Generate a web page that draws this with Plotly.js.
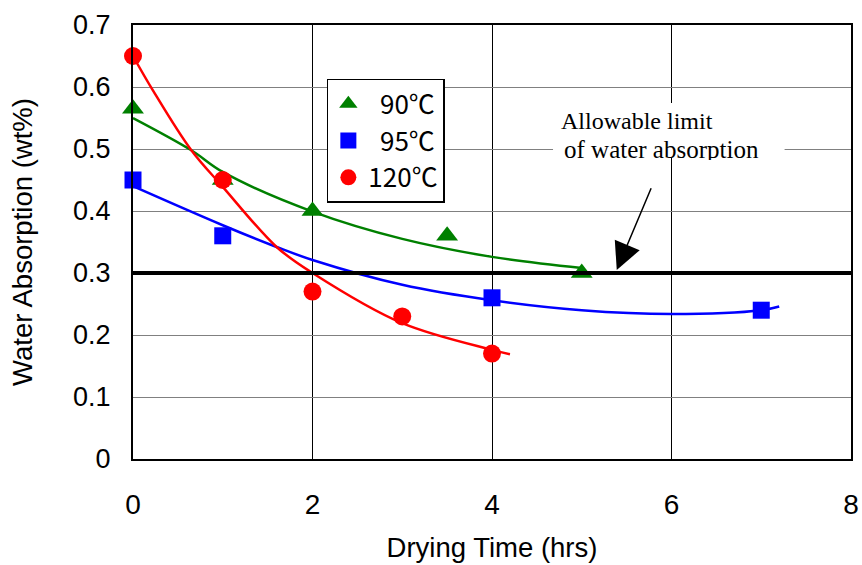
<!DOCTYPE html>
<html>
<head>
<meta charset="utf-8">
<script src="https://cdn.plot.ly/plotly-3.0.1.min.js"></script>
<style>html,body{margin:0;padding:0;background:#fff;}#chart{width:862px;height:565px;}</style>
</head>
<body>
<div id="chart"></div>
<script>
// Measured points
const series90Name = "\u00a0\u00a090\u2103";
const series95Name = "\u00a0\u00a095\u2103";
const series120Name = "120\u2103";
const time90 = [0, 1, 2, 3.5, 5];
const water90 = [0.565, 0.45, 0.40, 0.36, 0.30];
const time95 = [0, 1, 4, 7];
const water95 = [0.45, 0.36, 0.26, 0.24];
const time120 = [0, 1, 2, 3, 4];
const water120 = [0.65, 0.45, 0.27, 0.23, 0.17];

// Trend curves
const trendTime90 = [0, 0.65, 1, 2, 3, 4, 5];
const trendWater90 = [0.550, 0.498, 0.463, 0.399, 0.355, 0.326, 0.308];
const trendTime95 = [0, 1, 1.6, 2, 3, 4, 5, 6, 7, 7.2];
const trendWater95 = [0.440, 0.377, 0.342, 0.321, 0.281, 0.256, 0.240, 0.234, 0.240, 0.246];
const trendTime120 = [0, 0.22, 0.65, 1, 1.6, 2, 3, 4, 4.2];
const trendWater120 = [0.650, 0.595, 0.498, 0.439, 0.342, 0.300, 0.219, 0.176, 0.169];

// Allowable limit
const limitValue = 0.3;
const limitLine1 = "Allowable limit";
const limitLine2 = "of water absorption";
const arrowHead = [5.39, 0.305];
const arrowTail = [5.78, 0.439];

const xTicks = [0, 2, 4, 6, 8];
const yTicks = [0, 0.1, 0.2, 0.3, 0.4, 0.5, 0.6, 0.7];
const xTitle = "Drying Time (hrs)";
const yTitle = "Water Absorption (wt%)";

const GREEN = "#008000", BLUE = "#0000FF", RED = "#FF0000";
const SERIF = "Liberation Serif, Times New Roman, serif";
const SANS = "Liberation Sans, Arial, sans-serif";

const traces = [
  {x: trendTime90, y: trendWater90, mode: "lines", line: {color: GREEN, width: 2.5, shape: "spline"}, showlegend: false, hoverinfo: "skip"},
  {x: trendTime95, y: trendWater95, mode: "lines", line: {color: BLUE, width: 2.5, shape: "spline"}, showlegend: false, hoverinfo: "skip"},
  {x: trendTime120, y: trendWater120, mode: "lines", line: {color: RED, width: 2.5, shape: "spline"}, showlegend: false, hoverinfo: "skip"},
  {x: time90, y: water90, name: series90Name, mode: "markers", cliponaxis: false, legendgroup: "a",
   marker: {symbol: "triangle-up", size: 19, color: GREEN}},
  {x: time95, y: water95, name: series95Name, mode: "markers", cliponaxis: false, legendgroup: "b",
   marker: {symbol: "square", size: 17, color: BLUE}},
  {x: time120, y: water120, name: series120Name, mode: "markers", cliponaxis: false, legendgroup: "c",
   marker: {symbol: "circle", size: 18, color: RED}}
];

const layout = {
  width: 862, height: 565,
  margin: {l: 133, r: 11, t: 25, b: 106},
  paper_bgcolor: "#fff", plot_bgcolor: "#fff",
  showlegend: true,
  legend: {
    x: 0.270, y: 0.876, xanchor: "left", yanchor: "top",
    bgcolor: "#fff", bordercolor: "#000", borderwidth: 1.5,
    font: {family: "Noto Sans CJK JP, DejaVu Sans, sans-serif", size: 26, color: "#000"},
    tracegroupgap: 0, itemwidth: 30
  },
  xaxis: {
    range: [0, 8], tickvals: xTicks, ticktext: xTicks.map(String),
    showgrid: true, gridcolor: "#000", gridwidth: 1,
    showline: true, linecolor: "#000", linewidth: 2, mirror: true,
    zeroline: false, ticks: "", ticklabelstandoff: 19,
    tickfont: {family: SANS, size: 28, color: "#000"},
    title: {text: xTitle, standoff: 19, font: {family: SANS, size: 27.5, color: "#000"}}
  },
  yaxis: {
    range: [0, 0.7], tickvals: yTicks, ticktext: yTicks.map(v => v === 0 ? "0" : v.toFixed(1)),
    showgrid: true, gridcolor: "#808080", gridwidth: 1,
    showline: true, linecolor: "#000", linewidth: 2, mirror: true,
    zeroline: false, ticks: "", ticklabelstandoff: 15,
    tickfont: {family: SANS, size: 27, color: "#000"},
    title: {text: yTitle, standoff: 32, font: {family: SANS, size: 27.5, color: "#000"}}
  },
  shapes: [
    {type: "rect", xref: "x", yref: "y", x0: 4.68, x1: 7.26, y0: 0.4855, y1: 0.574,
     fillcolor: "#fff", line: {width: 0}, layer: "between"},
    {type: "line", xref: "paper", yref: "y", x0: 0, x1: 1, y0: limitValue, y1: limitValue,
     line: {color: "#000", width: 4}, layer: "above"}
  ],
  annotations: [
    {xref: "x", yref: "y", x: 4.76, y: 0.568, xanchor: "left", yanchor: "top",
     text: limitLine1, showarrow: false, align: "left", borderpad: 0,
     font: {family: SERIF, size: 24, color: "#000"}},
    {xref: "x", yref: "y", x: 4.79, y: 0.522, xanchor: "left", yanchor: "top",
     text: limitLine2, showarrow: false, align: "left", valign: "top", height: 24, borderpad: 0,
     font: {family: SERIF, size: 25, color: "#000"}},
    {xref: "x", yref: "y", axref: "x", ayref: "y", x: arrowHead[0], y: arrowHead[1],
     ax: arrowTail[0], ay: arrowTail[1], text: "", showarrow: true,
     arrowhead: 2, arrowsize: 3.6, arrowwidth: 1.5, arrowcolor: "#000", standoff: 0}
  ]
};

Plotly.newPlot("chart", traces, layout, {staticPlot: true, displayModeBar: false});
</script>
</body>
</html>
